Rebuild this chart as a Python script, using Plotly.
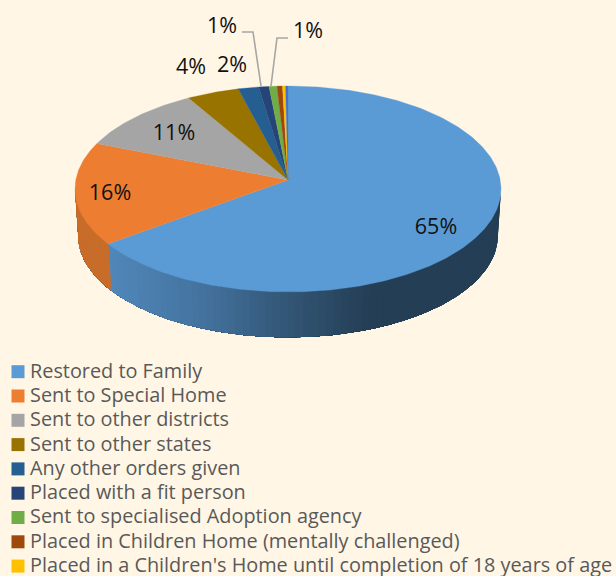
import math
import plotly.graph_objects as go

# ---- data ----
slice_values = [64.9, 16.1, 10.6, 4.3, 1.7, 0.85, 0.65, 0.45, 0.25, 0.2]
slice_colors = ["#5B9BD5", "#ED7D31", "#A5A5A5", "#997300", "#255E91",
                "#264478", "#70AD47", "#9E480E", "#FFC000", "#4472C4"]
legend_labels = ["Restored to Family", "Sent to Special Home", "Sent to other districts",
                 "Sent to other states", "Any other orders given", "Placed with a fit person",
                 "Sent to specialised Adoption agency",
                 "Placed in Children Home (mentally challenged)",
                 "Placed in a Children's Home until completion of 18 years of age"]

# ---- look ----
BG = "#FFF6E5"
CX, CY, A, B, K = 288, 180, 212.2, 102.2, 0.0874   # perspective disc
DEPTH, SHRINK = 47, 0.985
label_xy = [(436, 229), (110, 195), (174, 135), (191, 69), (232, 67), (222, 28), (308, 33)]
leaders = [([242, 253, 261], [32, 32, 86]), ([288, 277, 271], [38, 38, 86])]
side_stops = [(110, (80, 135, 185)), (200, (68, 115, 159)), (280, (52, 88, 120)), (370, (36, 62, 85)), (510, (36, 62, 85))]
ORANGE_SIDE = "#C86C2A"
FONT = "Open Sans"


def project(t, r=1.0, s=1.0, d=0.0):
    u, v = r * math.sin(t), r * math.cos(t)
    w = 1 + K * v
    return CX + s * A * u / w, CY - s * B * v / w + d


def side_colour(x):
    for (x0, c0), (x1, c1) in zip(side_stops, side_stops[1:]):
        if x <= x1:
            f = max(0, (x - x0) / (x1 - x0))
            return "rgb(%d,%d,%d)" % tuple(round(p + (q - p) * f) for p, q in zip(c0, c1))
    return "rgb(36,62,85)"


total = sum(slice_values)
edges = [0.0]
for val in slice_values:
    edges.append(edges[-1] + val / total * 2 * math.pi)

fig = go.Figure()
vis0, vis1 = math.radians(94.5), math.radians(265.5)

# side wall of the disc: painted back-to-front so that the shading has no seams
N = 90
grid = [vis0 + (vis1 - vis0) * i / N for i in range(N + 1)]
for i in range(N):
    arc = grid[i:]
    top = [project(t) for t in arc]
    bot = [project(t, s=SHRINK, d=DEPTH) for t in reversed(arc)]
    pts = top + bot + top[:1]
    tm = (grid[i] + grid[i + 1]) / 2
    col = side_colour(project(tm)[0]) if tm < edges[1] else ORANGE_SIDE
    fig.add_trace(go.Scatter(x=[p[0] for p in pts], y=[p[1] for p in pts], mode="lines",
                             fill="toself", fillcolor=col, line=dict(width=0),
                             hoverinfo="skip", showlegend=False))

# top face
for i, (val, col) in enumerate(zip(slice_values, slice_colors)):
    n = max(2, int((edges[i + 1] - edges[i]) * 60))
    pts = [(CX, CY)] + [project(edges[i] + (edges[i + 1] - edges[i]) * j / n) for j in range(n + 1)] + [(CX, CY)]
    fig.add_trace(go.Scatter(x=[p[0] for p in pts], y=[p[1] for p in pts], mode="lines",
                             fill="toself", fillcolor=col, line=dict(color=col, width=0.3),
                             name=legend_labels[i] if i < len(legend_labels) else "", showlegend=False))

# leader lines
for lx, ly in leaders:
    fig.add_trace(go.Scatter(x=lx, y=ly, mode="lines", line=dict(color="#A6A6A6", width=1.6),
                             hoverinfo="skip", showlegend=False))

# percentage labels
pct = ["%d%%" % round(v / total * 100) for v in slice_values[:len(label_xy)]]
fig.add_trace(go.Scatter(x=[p[0] for p in label_xy], y=[p[1] for p in label_xy], mode="text",
                         text=pct, textposition="middle center",
                         textfont=dict(family=FONT, size=21.5, color="#111111"),
                         hoverinfo="skip", showlegend=False))

# legend
rows = [371.7 + 24.3 * i for i in range(len(legend_labels))]
fig.add_trace(go.Scatter(x=[18] * len(rows), y=rows, mode="markers",
                         marker=dict(symbol="square", size=13, color=slice_colors[:len(rows)], line=dict(width=0)),
                         hoverinfo="skip", showlegend=False))
fig.add_trace(go.Scatter(x=[30] * len(rows), y=[r + 1 for r in rows], mode="text", text=legend_labels,
                         textposition="middle right",
                         textfont=dict(family=FONT, size=19.85, color="#595959"),
                         hoverinfo="skip", showlegend=False))

fig.update_layout(width=616, height=576, margin=dict(l=0, r=0, t=0, b=0),
                  paper_bgcolor=BG, plot_bgcolor=BG, showlegend=False,
                  xaxis=dict(range=[0, 616], visible=False, fixedrange=True),
                  yaxis=dict(range=[576, 0], visible=False, fixedrange=True))
fig.write_html("out.html", config=dict(displayModeBar=False),
               post_script="document.body.style.margin='0';document.body.style.background='%s';" % BG)
